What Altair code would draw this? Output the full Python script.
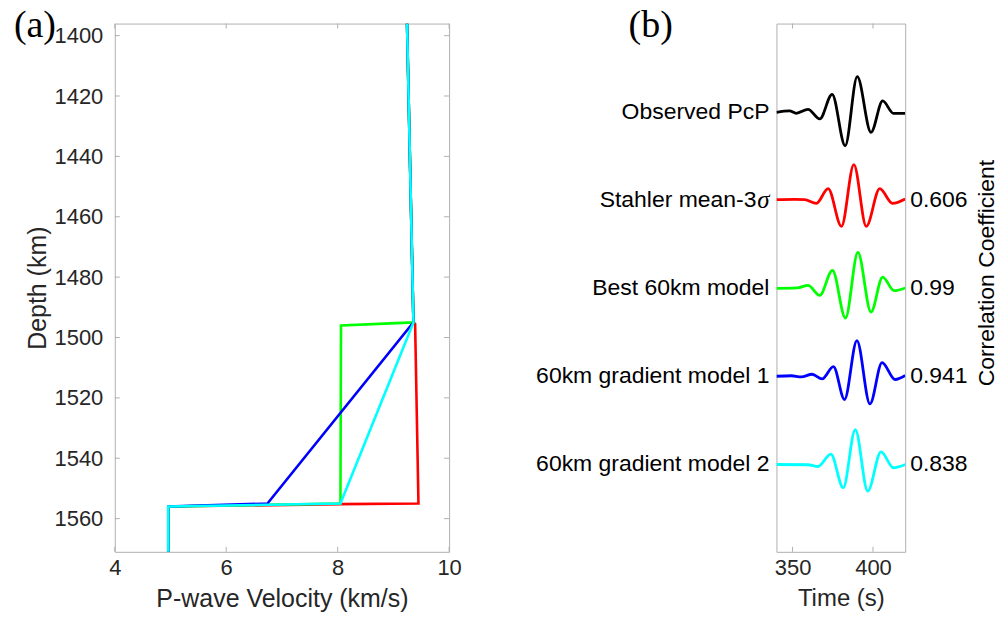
import altair as alt
import pandas as pd

# ---------------- Panel (a): velocity-depth profiles ----------------
models = ["Stahler mean-3σ", "Best 60km model", "60km gradient model 1", "60km gradient model 2"]
model_colors = ["#ff0000", "#00ff00", "#0000ff", "#00ffff"]

red_vel = [9.245, 9.36, 9.39, 9.45, 8.05, 4.96, 4.96]
red_depth = [1396, 1495, 1495.5, 1555, 1555.2, 1556, 1575]
green_vel = [9.245, 9.36, 8.06, 8.05, 4.96, 4.96]
green_depth = [1396, 1495, 1496, 1555, 1556, 1575]
blue_vel = [9.245, 9.36, 6.74, 4.96, 4.96]
blue_depth = [1396, 1495, 1555, 1556, 1575]
cyan_vel = [9.245, 9.36, 8.05, 4.96, 4.96]
cyan_depth = [1396, 1495, 1555, 1556, 1575]

depth_ticks = [1400, 1420, 1440, 1460, 1480, 1500, 1520, 1540, 1560]
vel_ticks = [4, 6, 8, 10]

# ---------------- Panel (b): waveforms ----------------
trace_labels = ["Observed PcP", "Stahler mean-3σ", "Best 60km model",
                "60km gradient model 1", "60km gradient model 2"]
trace_colors = ["#000000", "#ff0000", "#00ff00", "#0000ff", "#00ffff"]
trace_offsets = [5, 4, 3, 2, 1]
corr_values = ["", "0.606", "0.99", "0.941", "0.838"]

black_t = [340, 348.1, 352.3, 359.6, 366.9, 374.6, 382.7, 390.2, 398.75, 406.0, 412.7, 420]
black_a = [-0.008, 0.008, -0.019, 0.026, -0.083, 0.196, -0.389, 0.397, -0.235, 0.121, -0.019, -0.019]
red_t = [340, 351.3, 357.5, 364.8, 372.1, 380.4, 388.1, 395.8, 404.2, 412.1, 420]
red_a = [0, 0.003, 0, -0.042, 0.125, -0.303, 0.397, -0.303, 0.125, -0.042, 0.008]
green_t = [340, 353.1, 359.6, 366.9, 374.8, 382.9, 390.6, 398.75, 406.0, 413.1, 420]
green_a = [-0.008, -0.003, 0.026, -0.087, 0.196, -0.344, 0.400, -0.276, 0.121, -0.034, -0.003]
blue_t = [340, 349.2, 355.4, 362.1, 368.4, 375.4, 382.3, 390.0, 398.1, 405.6, 413.8, 420]
blue_a = [-0.006, 0, -0.014, 0.017, -0.036, 0.104, -0.270, 0.399, -0.320, 0.150, -0.043, 0.002]
cyan_t = [340, 359.6, 365.8, 373.8, 381.5, 389.0, 396.7, 405.0, 412.7, 420]
cyan_a = [-0.008, -0.011, -0.031, 0.110, -0.272, 0.389, -0.310, 0.136, -0.045, -0.008]

time_ticks = [350, 400]

# ---------------- styling ----------------
FONT = "Liberation Sans"
TXT = "#262626"
BOX = "#b0b0b0"
WA, WB, H = 335, 129, 529.3
TL = 5  # tick length

# ---------- panel (a) ----------
xa_scale = alt.Scale(domain=[4, 10], nice=False, zero=False)
ya_scale = alt.Scale(domain=[1396, 1571], nice=False, zero=False, reverse=True)
xa_axis = alt.Axis(values=vel_ticks, format="d", ticks=False, tickSize=0, domain=False, grid=False,
                   labelFontSize=22, labelPadding=6, labelColor=TXT, labelFont=FONT, labelFlush=False,
                   titleFontSize=25, titleFont=FONT, titleColor=TXT, titleFontWeight="normal",
                   titlePadding=8)
ya_axis = alt.Axis(values=depth_ticks, format="d", ticks=False, tickSize=0, domain=False, grid=False,
                   labelFontSize=22, labelPadding=12, labelColor=TXT, labelFont=FONT, labelFlush=False,
                   titleFontSize=25, titleFont=FONT, titleColor=TXT, titleFontWeight="normal",
                   titlePadding=3)


def XA():
    return alt.X("vel:Q", scale=xa_scale, axis=xa_axis, title="P-wave Velocity (km/s)")


def YA():
    return alt.Y("depth:Q", scale=ya_scale, axis=ya_axis, title="Depth (km)")


profiles = [(red_vel, red_depth), (green_vel, green_depth), (blue_vel, blue_depth), (cyan_vel, cyan_depth)]
layers_a = []
for (vel, dep), name, col in zip(profiles, models, model_colors):
    df = pd.DataFrame({"vel": vel, "depth": dep, "i": range(len(vel)), "model": name})
    layers_a.append(
        alt.Chart(df).mark_line(color=col, strokeWidth=2.6, clip=True).encode(
            x=XA(), y=YA(), order="i:Q"
        )
    )

ytick_df = pd.DataFrame({"depth": depth_ticks})
xtick_df = pd.DataFrame({"vel": vel_ticks})
layers_a.append(alt.Chart(ytick_df).mark_rule(color=BOX, strokeWidth=1).encode(
    y=YA(), x=alt.value(0), x2=alt.value(TL)))
layers_a.append(alt.Chart(ytick_df).mark_rule(color=BOX, strokeWidth=1).encode(
    y=YA(), x=alt.value(WA - TL), x2=alt.value(WA)))
layers_a.append(alt.Chart(xtick_df).mark_rule(color=BOX, strokeWidth=1).encode(
    x=XA(), y=alt.value(0), y2=alt.value(TL)))
layers_a.append(alt.Chart(xtick_df).mark_rule(color=BOX, strokeWidth=1).encode(
    x=XA(), y=alt.value(H - TL), y2=alt.value(H)))

lab_a = pd.DataFrame({"t": ["(a)"]})
layers_a.append(alt.Chart(lab_a).mark_text(font="Liberation Serif", fontSize=38, color="#000000",
                                           align="center", baseline="middle").encode(
    text="t:N", x=alt.value(-80), y=alt.value(2)))
# invisible frame marks to fix the overall canvas extent
frame_df = pd.DataFrame({"k": [0]})
layers_a.append(alt.Chart(frame_df).mark_rule(color="white", strokeWidth=0.1).encode(
    x=alt.value(-114), y=alt.value(-21.7), y2=alt.value(596.3)))

panel_a = alt.layer(*layers_a).properties(width=WA, height=H)

# ---------- panel (b) ----------
xb_scale = alt.Scale(domain=[340, 420], nice=False, zero=False)
yb_scale = alt.Scale(domain=[0, 6], nice=False, zero=False)
xb_axis = alt.Axis(values=time_ticks, format="d", ticks=False, tickSize=0, domain=False, grid=False,
                   labelFontSize=22, labelPadding=6, labelColor=TXT, labelFont=FONT, labelFlush=False,
                   titleFontSize=24, titleFont=FONT, titleColor=TXT, titleFontWeight="normal",
                   titlePadding=8)


def XB():
    return alt.X("time:Q", scale=xb_scale, axis=xb_axis, title="Time (s)")


def YB(field="y"):
    return alt.Y(f"{field}:Q", scale=yb_scale, axis=None)


waves = [(black_t, black_a), (red_t, red_a), (green_t, green_a), (blue_t, blue_a), (cyan_t, cyan_a)]
layers_b = []
for (t, a), name, col, off in zip(waves, trace_labels, trace_colors, trace_offsets):
    df = pd.DataFrame({"time": t, "amp": a, "offset": off, "trace": name})
    layers_b.append(
        alt.Chart(df).transform_calculate(y="datum.offset + datum.amp").mark_line(
            color=col, strokeWidth=2.8, interpolate="monotone", clip=True
        ).encode(x=XB(), y=YB("y"))
    )

tick_b = pd.DataFrame({"time": time_ticks})
layers_b.append(alt.Chart(tick_b).mark_rule(color=BOX, strokeWidth=1).encode(
    x=XB(), y=alt.value(0), y2=alt.value(TL)))
layers_b.append(alt.Chart(tick_b).mark_rule(color=BOX, strokeWidth=1).encode(
    x=XB(), y=alt.value(H - TL), y2=alt.value(H)))

# labels: the trailing "σ" is set apart in italic serif, as in the original
main_text = [s[:-1] if s.endswith("σ") else s for s in trace_labels]
sigma_text = ["σ" if s.endswith("σ") else "" for s in trace_labels]
shift = [-20 if s.endswith("σ") else -7 for s in trace_labels]
lab_df = pd.DataFrame({"label": main_text, "sig": sigma_text, "offset": trace_offsets,
                       "corr": corr_values, "dx": shift})

for dx in sorted(set(shift)):
    sub = lab_df[lab_df["dx"] == dx]
    layers_b.append(alt.Chart(sub).mark_text(font=FONT, fontSize=23, color="#000000",
                                             align="right", baseline="middle").encode(
        text="label:N", y=YB("offset"), x=alt.value(dx)))
sig_df = lab_df[lab_df["sig"] != ""]
layers_b.append(alt.Chart(sig_df).mark_text(font="Liberation Serif", fontSize=25, fontStyle="italic",
                                            color="#000000", align="right", baseline="middle").encode(
    text="sig:N", y=YB("offset"), x=alt.value(-7)))
layers_b.append(alt.Chart(lab_df).mark_text(font=FONT, fontSize=23, color="#000000",
                                            align="left", baseline="middle").encode(
    text="corr:N", y=YB("offset"), x=alt.value(WB + 5)))

side_df = pd.DataFrame({"t": ["Correlation Coefficient"]})
layers_b.append(alt.Chart(side_df).mark_text(font=FONT, fontSize=23, color="#000000", angle=270,
                                             align="center", baseline="middle").encode(
    text="t:N", x=alt.value(211), y=alt.value(250)))
lab_b = pd.DataFrame({"t": ["(b)"]})
layers_b.append(alt.Chart(lab_b).mark_text(font="Liberation Serif", fontSize=38, color="#000000",
                                           align="center", baseline="middle").encode(
    text="t:N", x=alt.value(-126), y=alt.value(2)))
layers_b.append(alt.Chart(frame_df).mark_rule(color="white", strokeWidth=0.1).encode(
    x=alt.value(226), y=alt.value(-21.7), y2=alt.value(596.3)))

panel_b = alt.layer(*layers_b).properties(width=WB, height=H)

chart = alt.hconcat(panel_a, panel_b, spacing=328, bounds="flush").properties(
    padding=0, background="white"
).configure_view(stroke=BOX, strokeWidth=1).configure_axis(labelFont=FONT, titleFont=FONT)

chart.save("out.html", embed_options={"renderer": "svg", "actions": False})
